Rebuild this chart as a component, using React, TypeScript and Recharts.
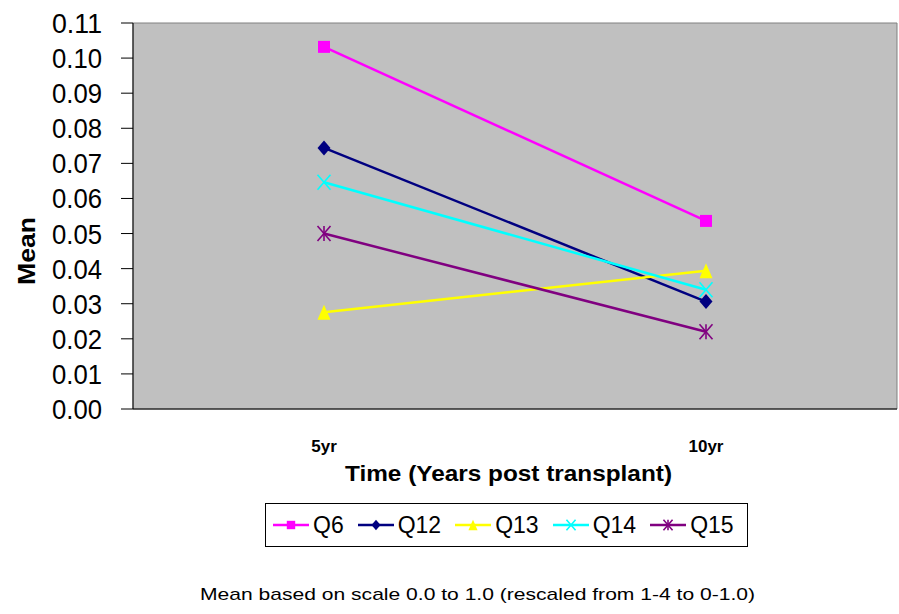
import React from 'react';
import { LineChart, Line, XAxis, YAxis, ReferenceArea, Legend } from 'recharts';

const categories = ['5yr', '10yr'];
const seriesNames = ['Q6', 'Q12', 'Q13', 'Q14', 'Q15'];
const q6 = [0.1032, 0.0536];
const q12 = [0.0744, 0.0306];
const q13 = [0.0276, 0.0394];
const q14 = [0.0646, 0.034];
const q15 = [0.05, 0.022];
const yTicks = [0, 0.01, 0.02, 0.03, 0.04, 0.05, 0.06, 0.07, 0.08, 0.09, 0.1, 0.11];
const xTitle = 'Time (Years post transplant)';
const yTitle = 'Mean';
const footnote = 'Mean based on scale 0.0 to 1.0 (rescaled from 1-4 to 0-1.0)';

const seriesValues = [q6, q12, q13, q14, q15];
const seriesColors = ['#FF00FF', '#000080', '#FFFF00', '#00FFFF', '#800080'];
const seriesMarkers = ['square', 'diamond', 'triangle', 'x', 'star'];

const data = categories.map((c, i) => {
  const row: any = { x: i + 0.5, name: c };
  seriesNames.forEach((s, k) => { row[s] = seriesValues[k][i]; });
  return row;
});

const SANS = '"Liberation Sans", Arial, sans-serif';

function Marker({ type, cx, cy, color, s = 1 }: any) {
  if (cx == null || cy == null) return null;
  const h = 6.5 * s;
  const v = 7.5 * s;
  switch (type) {
    case 'square':
      return <rect x={cx - 6 * s} y={cy - 6 * s} width={12 * s} height={12 * s} fill={color} />;
    case 'diamond':
      return <polygon points={`${cx},${cy - v} ${cx + h},${cy} ${cx},${cy + v} ${cx - h},${cy}`} fill={color} />;
    case 'triangle':
      return <polygon points={`${cx},${cy - v} ${cx + h},${cy + v} ${cx - h},${cy + v}`} fill={color} />;
    case 'x':
      return (
        <g stroke={color} strokeWidth={1.6}>
          <line x1={cx - h} y1={cy - v} x2={cx + h} y2={cy + v} />
          <line x1={cx - h} y1={cy + v} x2={cx + h} y2={cy - v} />
        </g>
      );
    case 'star':
      return (
        <g stroke={color} strokeWidth={1.6}>
          <line x1={cx - h} y1={cy - v} x2={cx + h} y2={cy + v} />
          <line x1={cx - h} y1={cy + v} x2={cx + h} y2={cy - v} />
          <line x1={cx} y1={cy - v} x2={cx} y2={cy + v} />
        </g>
      );
    default:
      return null;
  }
}

function YTick(p: any) {
  const label = Number(p.payload.value).toFixed(2);
  return (
    <text
      x={102}
      y={p.y}
      dy={10}
      textAnchor="end"
      textLength={50}
      lengthAdjust="spacingAndGlyphs"
      style={{ fontFamily: SANS, fontSize: 28, fill: '#000' }}
    >
      {label}
    </text>
  );
}

function LegendContent() {
  return (
    <div
      style={{
        border: '1px solid #000',
        width: 483,
        height: 44,
        boxSizing: 'border-box',
        display: 'flex',
        alignItems: 'center',
        paddingLeft: 7,
        background: '#fff',
      }}
    >
      {seriesNames.map((s, k) => (
        <div key={s} style={{ display: 'flex', alignItems: 'center', marginRight: 14 }}>
          <svg width={36} height={20} style={{ display: 'block' }}>
            <line x1={0} y1={10} x2={36} y2={10} stroke={seriesColors[k]} strokeWidth={2.5} />
            <Marker type={seriesMarkers[k]} cx={18} cy={10} color={seriesColors[k]} s={0.7} />
          </svg>
          <span style={{ fontFamily: SANS, fontSize: 23, color: '#000', marginLeft: 4, lineHeight: '42px' }}>{s}</span>
        </div>
      ))}
    </div>
  );
}

export default function App() {
  return (
    <div style={{ position: 'absolute', left: 0, top: 0, width: 899, height: 614, background: '#fff' }}>
      <LineChart width={899} height={614} data={data} margin={{ top: 23, right: 2, left: 0, bottom: 0 }}>
        <ReferenceArea
          xAxisId="grid"
          x1={0}
          x2={2}
          y1={0}
          y2={0.11}
          fill="#C0C0C0"
          fillOpacity={1}
          stroke="#808080"
          strokeWidth={1}
          ifOverflow="extendDomain"
        />
        <XAxis
          xAxisId="grid"
          dataKey="x"
          type="number"
          domain={[0, 2]}
          ticks={[0, 1, 2]}
          tick={false}
          tickSize={9}
          height={11}
          stroke="#000"
          axisLine={{ stroke: '#000', strokeWidth: 1 }}
          tickLine={{ stroke: '#000' }}
        />
        <XAxis
          xAxisId="labels"
          dataKey="x"
          type="number"
          domain={[0, 2]}
          ticks={[0.5, 1.5]}
          tickFormatter={(v: number) => categories[Math.floor(v)]}
          axisLine={false}
          tickLine={false}
          tickSize={6}
          tickMargin={14}
          height={194}
          tick={{ fontFamily: SANS, fontSize: 17, fontWeight: 'bold', fill: '#000' }}
          label={{
            content: () => (
              <g>
                <text
                  x={508.5}
                  y={481}
                  textAnchor="middle"
                  textLength={327}
                  lengthAdjust="spacingAndGlyphs"
                  style={{ fontFamily: SANS, fontSize: 22, fontWeight: 'bold', fill: '#000' }}
                >
                  {xTitle}
                </text>
                <text
                  x={200}
                  y={600}
                  textLength={555}
                  lengthAdjust="spacingAndGlyphs"
                  style={{ fontFamily: SANS, fontSize: 17, fill: '#000' }}
                >
                  {footnote}
                </text>
              </g>
            ),
          }}
        />
        <YAxis
          type="number"
          domain={[0, 0.11]}
          ticks={yTicks}
          width={133}
          tickSize={12}
          stroke="#000"
          axisLine={{ stroke: '#000', strokeWidth: 1 }}
          tickLine={{ stroke: '#000' }}
          tick={<YTick />}
          interval={0}
          label={{
            content: () => (
              <text
                transform="translate(35 251) rotate(-90)"
                x={0}
                y={0}
                textAnchor="middle"
                textLength={68}
                lengthAdjust="spacingAndGlyphs"
                style={{ fontFamily: SANS, fontSize: 24, fontWeight: 'bold', fill: '#000' }}
              >
                {yTitle}
              </text>
            ),
          }}
        />
        {seriesNames.map((s, k) => (
          <Line
            key={s}
            xAxisId="grid"
            dataKey={s}
            stroke={seriesColors[k]}
            strokeWidth={2.5}
            isAnimationActive={false}
            dot={(p: any) => <Marker key={`${s}-${p.index}`} type={seriesMarkers[k]} cx={p.cx} cy={p.cy} color={seriesColors[k]} />}
            activeDot={false}
          />
        ))}
        <Legend
          layout="horizontal"
          verticalAlign="middle"
          align="center"
          wrapperStyle={{ top: 503, left: 265, width: 483, height: 44 }}
          content={() => <LegendContent />}
        />
      </LineChart>
    </div>
  );
}
